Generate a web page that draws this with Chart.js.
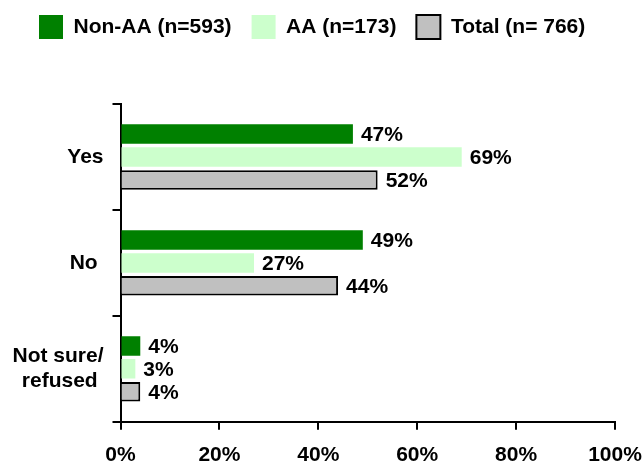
<!DOCTYPE html>
<html>
<head>
<meta charset="utf-8">
<script src="https://cdn.jsdelivr.net/npm/chart.js@4.4.0/dist/chart.umd.min.js"></script>
<style>
  html, body { margin: 0; padding: 0; background: #fff; }
  #wrap { width: 644px; height: 465px; }
</style>
</head>
<body>
<div id="wrap"><canvas id="myChart"></canvas></div>
<script>
// categories and series (percent)
var categories = ["Yes", "No ", ["Not sure/", "refused "]];
var seriesNames = ["Non-AA (n=593)", "AA (n=173)", "Total (n= 766)"];
var nonAA = [47, 49, 4];
var aa = [69, 27, 3];
var total = [52, 44, 4];
var xTicks = [0, 20, 40, 60, 80, 100];

var font = "'Liberation Sans', Arial, sans-serif";
Chart.defaults.font.family = font;
Chart.defaults.font.size = 21;
Chart.defaults.font.weight = "bold";
Chart.defaults.color = "#000";

// legend: leave a gap under it and nudge it to where the original sits
var legendSpacer = {
  id: "legendSpacer",
  beforeInit(chart) {
    var lg = chart.legend;
    if (!lg) return;
    var fit = lg.fit;
    lg.fit = function () {
      fit.bind(lg)();
      this.height += 50;
    };
  },
  afterLayout(chart) {
    var lg = chart.legend;
    if (!lg) return;
    lg.left += 11;
    lg.top -= 5;
  }
};

// value labels at the end of each bar
var barLabels = {
  id: "barLabels",
  afterDatasetsDraw(chart) {
    var ctx = chart.ctx;
    ctx.save();
    ctx.font = "bold 21px " + font;
    ctx.fillStyle = "#000";
    ctx.textAlign = "left";
    ctx.textBaseline = "middle";
    chart.data.datasets.forEach(function (ds, i) {
      chart.getDatasetMeta(i).data.forEach(function (bar, j) {
        ctx.fillText(ds.data[j] + "%", bar.x + 8, bar.y + 1);
      });
    });
    ctx.restore();
  }
};

new Chart("myChart", {
  type: "bar",
  data: {
    labels: categories,
    datasets: [
      { label: seriesNames[0], data: nonAA, backgroundColor: "#008000", borderWidth: 0 },
      { label: seriesNames[1], data: aa, backgroundColor: "#CCFFCC", borderWidth: 0 },
      { label: seriesNames[2], data: total, backgroundColor: "#C0C0C0", borderColor: "#000", borderWidth: 2 }
    ]
  },
  options: {
    indexAxis: "y",
    responsive: true,
    maintainAspectRatio: false,
    animation: false,
    categoryPercentage: 0.65,
    barPercentage: 0.85,
    layout: { padding: { left: 8, right: 2, top: 0, bottom: -16 } },
    plugins: {
      tooltip: { enabled: false },
      legend: {
        position: "top",
        align: "start",
        labels: {
          boxWidth: 24,
          boxHeight: 24,
          padding: 20,
          color: "#000",
          font: { size: 21, weight: "bold" },
          generateLabels(chart) {
            return chart.data.datasets.map(function (ds, i) {
              return {
                text: ds.label,
                fillStyle: ds.backgroundColor,
                strokeStyle: i === 2 ? "#000" : ds.backgroundColor,
                lineWidth: i === 2 ? 2 : 0,
                datasetIndex: i
              };
            });
          }
        }
      }
    },
    scales: {
      x: {
        min: 0,
        max: 100,
        afterBuildTicks(scale) {
          scale.ticks = xTicks.map(function (v) { return { value: v }; });
        },
        afterFit(scale) { scale.paddingRight = 29; },
        ticks: {
          padding: 13,
          color: "#000",
          maxRotation: 0,
          callback: function (v) { return v + "%"; }
        },
        grid: { drawOnChartArea: false, drawTicks: true, tickLength: 8, color: "#000", lineWidth: 2 },
        border: { color: "#000", width: 2 }
      },
      y: {
        afterFit(scale) { scale.width = 112.5; },
        ticks: { padding: 9, color: "#000" },
        grid: { offset: true, drawOnChartArea: false, drawTicks: true, tickLength: 8, color: "#000", lineWidth: 2 },
        border: { color: "#000", width: 2 }
      }
    }
  },
  plugins: [legendSpacer, barLabels]
});
</script>
</body>
</html>
